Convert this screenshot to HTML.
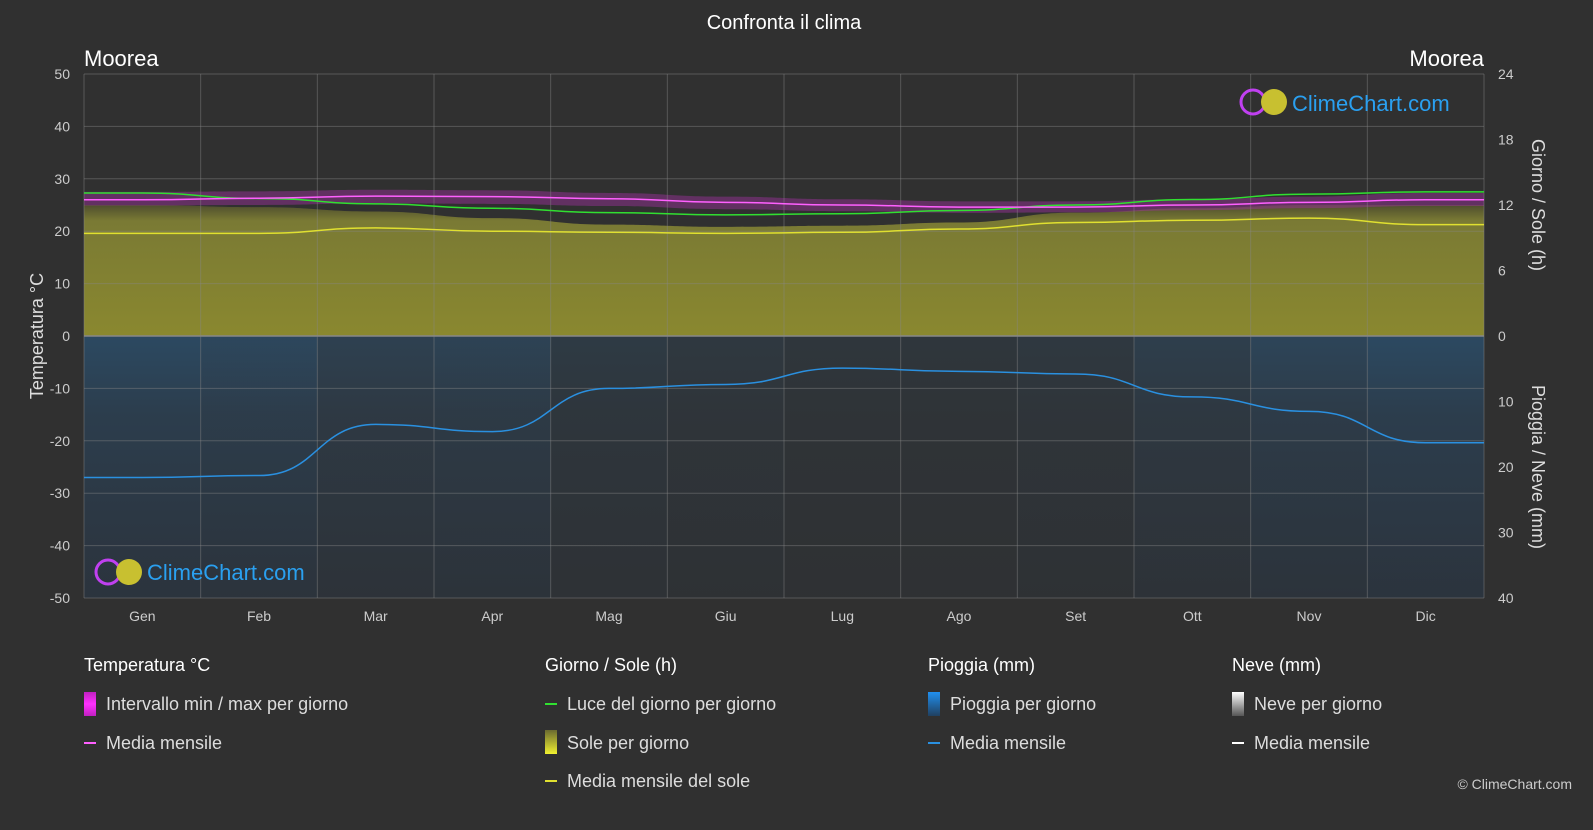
<!DOCTYPE html>
<html><head><meta charset="utf-8"><style>
body{margin:0;background:#303030;font-family:"Liberation Sans",sans-serif}
svg text{font-family:"Liberation Sans",sans-serif}
</style></head><body>
<svg id="c" width="1593" height="825" xmlns="http://www.w3.org/2000/svg">
<defs>
<linearGradient id="sunG" x1="0" y1="0" x2="0" y2="1"><stop offset="0" stop-color="#4e4e2e"/><stop offset="0.12" stop-color="#7a7a34"/><stop offset="1" stop-color="#8a882f"/></linearGradient>
<linearGradient id="rainG" x1="0" y1="0" x2="0" y2="1"><stop offset="0" stop-color="#2a5a82"/><stop offset="0.3" stop-color="#2a4660"/><stop offset="1" stop-color="#283646"/></linearGradient>
<linearGradient id="lgT" x1="0" y1="0" x2="0" y2="1"><stop offset="0" stop-color="#c020c0"/><stop offset="0.5" stop-color="#ff30ff"/><stop offset="1" stop-color="#c020c0"/></linearGradient>
<linearGradient id="lgS" x1="0" y1="0" x2="0" y2="1"><stop offset="0" stop-color="#6a6a30"/><stop offset="1" stop-color="#f0f030"/></linearGradient>
<linearGradient id="lgR" x1="0" y1="0" x2="0" y2="1"><stop offset="0" stop-color="#2090f0"/><stop offset="1" stop-color="#204060"/></linearGradient>
<linearGradient id="lgN" x1="0" y1="0" x2="0" y2="1"><stop offset="0" stop-color="#ffffff"/><stop offset="1" stop-color="#555"/></linearGradient>
</defs>
<text x="784" y="29" fill="#fff" font-size="20" text-anchor="middle">Confronta il clima</text>
<text x="84" y="66" fill="#fff" font-size="22">Moorea</text>
<text x="1484" y="66" fill="#fff" font-size="22" text-anchor="end">Moorea</text>
<g id="plot"></g>
<text transform="translate(43,336) rotate(-90)" fill="#ddd" font-size="18" text-anchor="middle">Temperatura °C</text>
<text transform="translate(1532,205) rotate(90)" fill="#ddd" font-size="18" text-anchor="middle">Giorno / Sole (h)</text>
<text transform="translate(1532,467) rotate(90)" fill="#ddd" font-size="18" text-anchor="middle">Pioggia / Neve (mm)</text>
<g><circle cx="1253" cy="102" r="12" fill="none" stroke="#c040f0" stroke-width="3"/><circle cx="1274" cy="102" r="13" fill="#c8c030"/><text x="1292" y="111" fill="#2aa0f0" font-size="22">ClimeChart.com</text></g>
<g><circle cx="108" cy="572" r="12" fill="none" stroke="#c040f0" stroke-width="3"/><circle cx="129" cy="572" r="13" fill="#c8c030"/><text x="147" y="580" fill="#2aa0f0" font-size="22">ClimeChart.com</text></g>
<g font-size="18" fill="#ddd">
<text x="84" y="671" fill="#fff">Temperatura °C</text>
<rect x="84" y="692" width="12" height="24" fill="url(#lgT)"/><text x="106" y="710">Intervallo min / max per giorno</text>
<rect x="84" y="742" width="12" height="2" fill="#ff60ff"/><text x="106" y="749">Media mensile</text>
<text x="545" y="671" fill="#fff">Giorno / Sole (h)</text>
<rect x="545" y="703" width="12" height="2" fill="#30e030"/><text x="567" y="710">Luce del giorno per giorno</text>
<rect x="545" y="730" width="12" height="24" fill="url(#lgS)"/><text x="567" y="749">Sole per giorno</text>
<rect x="545" y="780" width="12" height="2" fill="#e0e030"/><text x="567" y="787">Media mensile del sole</text>
<text x="928" y="671" fill="#fff">Pioggia (mm)</text>
<rect x="928" y="692" width="12" height="24" fill="url(#lgR)"/><text x="950" y="710">Pioggia per giorno</text>
<rect x="928" y="742" width="12" height="2" fill="#2a90e0"/><text x="950" y="749">Media mensile</text>
<text x="1232" y="671" fill="#fff">Neve (mm)</text>
<rect x="1232" y="692" width="12" height="24" fill="url(#lgN)"/><text x="1254" y="710">Neve per giorno</text>
<rect x="1232" y="742" width="12" height="2" fill="#fff"/><text x="1254" y="749">Media mensile</text>
</g>
<text x="1572" y="789" fill="#ccc" font-size="14" text-anchor="end">© ClimeChart.com</text>
</svg>
<script>
const months=["Gen","Feb","Mar","Apr","Mag","Giu","Lug","Ago","Set","Ott","Nov","Dic"];
const tempMean=[26.0,26.3,26.7,26.6,26.2,25.5,25.0,24.6,24.6,25.0,25.5,26.0];
const tempMax=[27.5,27.6,27.9,27.8,27.3,26.6,26.1,25.7,25.7,26.1,26.6,27.3];
const tempMin=[24.9,25.0,25.3,25.2,24.8,24.2,23.8,23.5,23.6,24.0,24.4,24.8];
const daylight=[13.1,12.6,12.1,11.7,11.3,11.1,11.2,11.5,12.0,12.5,13.0,13.2];
const sunMean=[9.4,9.4,9.9,9.6,9.5,9.4,9.5,9.8,10.4,10.6,10.8,10.2];
const sunTop=[12.0,11.8,11.4,10.8,10.2,10.0,10.1,10.4,11.3,11.7,12.0,12.0];
const rainMean=[21.6,21.3,13.5,14.6,8.0,7.4,4.9,5.4,5.8,9.3,11.5,16.3];
const rainShade=[0.6,0.55,0.4,0.45,0.25,0.2,0.15,0.15,0.2,0.35,0.5,0.6];
const tTicks=[50,40,30,20,10,0,-10,-20,-30,-40,-50];
const hTicks=[24,18,12,6,0];
const rTicks=[10,20,30,40];
const X0=84,X1=1484,Y0=74,Y1=598;
const ns="http://www.w3.org/2000/svg";
const g=document.getElementById('plot');
const yT=t=>336-(t)*(Y1-Y0)/100;
const yH=h=>yT(h*50/24);
const yR=r=>yT(-r*50/40);
const mw=(X1-X0)/12;
const xM=i=>X0+mw*(i+0.5);
function mk(tag,a){const e=document.createElementNS(ns,tag);for(const k in a)e.setAttribute(k,a[k]);g.appendChild(e);return e;}
function line(vals,f){let pts=[[X0,f(vals[0])]];vals.forEach((v,i)=>pts.push([xM(i),f(v)]));pts.push([X1,f(vals[11])]);return pts;}
function pathOf(p){let d="M"+p[0][0]+","+p[0][1];for(let i=1;i<p.length;i++){const a=p[i-1],b=p[i];const mx=(a[0]+b[0])/2;d+=" C"+mx+","+a[1]+" "+mx+","+b[1]+" "+b[0]+","+b[1];}return d;}
rainShade.forEach((s,i)=>{const e=mk('rect',{x:X0+mw*i,y:336,width:mw,height:Y1-336,fill:'url(#rainG)',opacity:s});

});
{const p=line(sunTop,yH);const e=mk('path',{d:pathOf(p)+" L"+X1+",336 L"+X0+",336 Z",fill:'url(#sunG)'});

}
{const a=line(tempMax,yT),b=line(tempMin,yT).reverse();const e=mk('path',{d:pathOf(a)+" L"+b[0][0]+","+b[0][1]+pathOf(b).replace(/^M[^ ]+/,''),fill:'#a030a0',opacity:0.45});

}
tTicks.forEach(t=>{const e=mk('line',{x1:X0,x2:X1,y1:yT(t),y2:yT(t),stroke:'#888','stroke-opacity':t==0?1:0.45,'stroke-width':t==0?1.5:1});


const l=mk('text',{x:70,y:yT(t)+5,fill:'#ccc','font-size':14,'text-anchor':'end'});l.textContent=t;

});
for(let i=0;i<=12;i++){const e=mk('line',{x1:X0+mw*i,x2:X0+mw*i,y1:Y0,y2:Y1,stroke:'#888','stroke-opacity':0.45});

}
months.forEach((m,i)=>{const l=mk('text',{x:xM(i),y:621,fill:'#ccc','font-size':14,'text-anchor':'middle'});l.textContent=m;

});
hTicks.forEach(h=>{const l=mk('text',{x:1498,y:yH(h)+5,fill:'#ccc','font-size':14});l.textContent=h;

});
rTicks.forEach(r=>{const l=mk('text',{x:1498,y:yR(r)+5,fill:'#ccc','font-size':14});l.textContent=r;

});
[[daylight,yH,'#30e030','daylight-line'],[sunMean,yH,'#e0e030','sun-mean-line'],[tempMean,yT,'#ff60ff','temp-mean-line'],[rainMean,yR,'#2a90e0','rain-mean-line']].forEach(([v,f,c,n])=>{
const e=mk('path',{d:pathOf(line(v,f)),fill:'none',stroke:c,'stroke-width':1.5});

});
</script>
</body></html>
